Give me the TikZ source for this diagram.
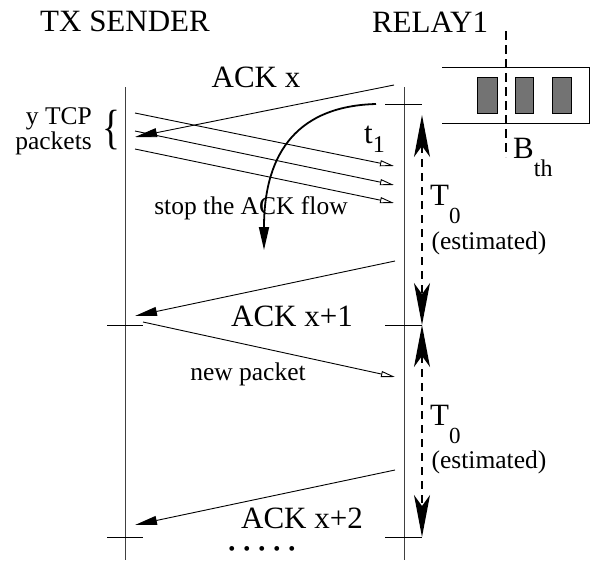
\documentclass[tikz,border=0pt]{standalone}
\usepackage{fontspec}
\setmainfont{Liberation Serif}
\usetikzlibrary{arrows.meta}
\begin{document}
\begin{tikzpicture}[x=1pt,y=-1pt,
  big/.style={font=\fontsize{31}{34}\selectfont, inner sep=0pt},
  small/.style={font=\fontsize{25.5}{29}\selectfont, inner sep=0pt},
  timeline/.style={line width=1pt, draw=black!75},
  tick/.style={line width=1pt},
  ack/.style={line width=0.9pt, -{Triangle[length=22pt,width=9pt]}},
  pkt/.style={line width=0.9pt, -{Triangle[open,length=14pt,width=6pt,fill=white]}},
  period/.style={line width=1.4pt, dash pattern=on 8pt off 6pt, {Stealth[length=42pt,width=16pt,inset=11pt]}-{Stealth[length=42pt,width=16pt,inset=11pt]}},
  stopflow/.style={line width=1.8pt, -{Triangle[length=23pt,width=10pt]}},
  slot/.style={fill=black!55, draw=black, line width=0.8pt}
]
\useasboundingbox (0,0) rectangle (600,560);

% titles
\node[big] (tx) at (125,21) {TX SENDER};
\node[big] (relay) at (430,22) {RELAY1};

% timelines
\coordinate (sTop) at (125,87);
\coordinate (sBot) at (125,560);
\coordinate (rTop) at (404,87);
\coordinate (rBot) at (404,560);
\draw[timeline] (sTop) -- (sBot);
\draw[timeline] (rTop) -- (rBot);

% ticks
\coordinate (tkA1) at (385,104); \coordinate (tkA2) at (422,104);
\coordinate (tkB1) at (107,325); \coordinate (tkB2) at (143,325);
\coordinate (tkC1) at (385,325); \coordinate (tkC2) at (422,325);
\coordinate (tkD1) at (107,537); \coordinate (tkD2) at (143,537);
\coordinate (tkE1) at (385,537); \coordinate (tkE2) at (422,537);
\draw[tick] (tkA1) -- (tkA2);
\draw[tick] (tkB1) -- (tkB2);
\draw[tick] (tkC1) -- (tkC2);
\draw[tick] (tkD1) -- (tkD2);
\draw[tick] (tkE1) -- (tkE2);

% ACK x
\coordinate (ax0) at (394,85); \coordinate (ax1) at (135,137);
\draw[ack] (ax0) -- (ax1);
\node[big] (ackx) at (256,77) {ACK x};

% packets
\coordinate (p1s) at (135,113); \coordinate (p1e) at (394,166);
\coordinate (p2s) at (135,131); \coordinate (p2e) at (394,185);
\coordinate (p3s) at (135,149); \coordinate (p3e) at (394,203);
\draw[pkt] (p1s) -- (p1e);
\draw[pkt] (p2s) -- (p2e);
\draw[pkt] (p3s) -- (p3e);

% brace and label
\node[inner sep=0pt, font=\fontsize{31}{31}\selectfont] (brace) at (111,130) {\scalebox{1.2}[1.55]{\{}};
\node[small, align=right, anchor=east] (ytcp) at (92,131) {y TCP\\[-4pt]packets};

% stop the ACK flow curve
\coordinate (cf0) at (376,104); \coordinate (cf1) at (264,250);
\draw[stopflow] (cf0) .. controls (300,106) and (264,150) .. (cf1);
\node[small] (stop) at (251,208) {stop the ACK flow};

% t1
\node[big, anchor=base west] (t1) at (364,143) {t\raisebox{-9pt}{\fontsize{24}{24}\selectfont 1}};

% ACK x+1
\coordinate (a1s) at (395,261); \coordinate (a1e) at (135,316);
\draw[ack] (a1s) -- (a1e);
\node[big] (ackx1) at (292,316) {ACK x+1};

% new packet
\coordinate (nps) at (143,322); \coordinate (npe) at (395,377);
\draw[pkt] (nps) -- (npe);
\node[small] (newp) at (248,374) {new packet};

% ACK x+2
\coordinate (a2s) at (395,470); \coordinate (a2e) at (135,525);
\draw[ack] (a2s) -- (a2e);
\node[big] (ackx2) at (302,518) {ACK x+2};
\node[inner sep=0pt, anchor=base, font=\fontsize{20}{20}\selectfont] (dots) at (262,555.5) {•\hspace{8pt}•\hspace{8pt}•\hspace{8pt}•\hspace{8pt}•};

% T0 periods
\coordinate (pA) at (422,115); \coordinate (pB) at (422,325); \coordinate (pC) at (422,537);
\draw[period] (pA) -- (pB);
\draw[period] (pB) -- (pC);
\node[big, anchor=base west] (T01) at (430,205) {T\raisebox{-18pt}{\fontsize{23}{23}\selectfont 0}};
\node[small] (est1) at (489,243) {(estimated)};
\node[big, anchor=base west] (T02) at (430,425) {T\raisebox{-18pt}{\fontsize{23}{23}\selectfont 0}};
\node[small] (est2) at (489,462) {(estimated)};

% buffer
\coordinate (bTL) at (442,67); \coordinate (bTR) at (589,67);
\coordinate (bBR) at (589,123); \coordinate (bBL) at (442,123);
\draw[line width=1pt] (bTL) -- (bTR) -- (bBR) -- (bBL);
\draw[slot] (477,77) rectangle (497,113);
\draw[slot] (515,77) rectangle (533,113);
\draw[slot] (552,77) rectangle (571,113);
\coordinate (thT) at (506,31); \coordinate (thB) at (506,157);
\draw[line width=1.3pt, dash pattern=on 9pt off 5pt] (thT) -- (thB);
\node[big, anchor=base west] (bth) at (513,158) {B\raisebox{-18pt}{\fontsize{24}{24}\selectfont th}};
\end{tikzpicture}
\end{document}
